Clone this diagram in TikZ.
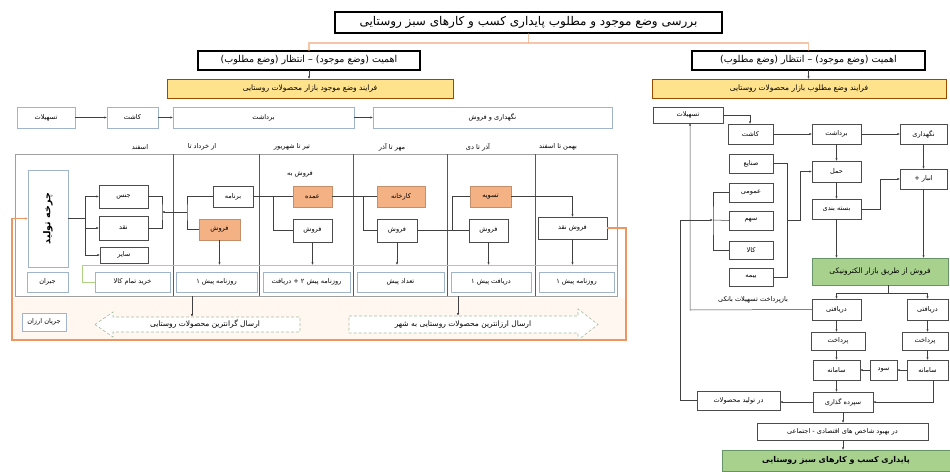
\documentclass[tikz,border=0pt]{standalone}
\usepackage{fontspec}
\setmainfont{DejaVu Sans}
\newfontfamily\fafont[Script=Arabic]{DejaVu Sans}
\TeXXeTstate=1
\usetikzlibrary{arrows.meta}
\definecolor{orbox}{RGB}{244,177,131}
\definecolor{yel}{RGB}{255,226,140}
\definecolor{grn}{RGB}{169,209,142}
\definecolor{loopc}{RGB}{236,150,100}
\definecolor{lblue}{RGB}{160,180,205}
\definecolor{gline}{RGB}{175,210,130}
\definecolor{shp}{RGB}{165,190,160}
\newcommand\fa[1]{{\fafont\beginR #1\endR}}
\newcommand\pbox[7]{\node[#2,minimum width={(#5-#3)*1pt},minimum height={(#6-#4)*1pt}] (#1) at ({(#3+#5)/2},{(#4+#6)/2}) {#7};}
\tikzset{
  base/.style={inner sep=0pt,outer sep=0pt,draw=black!70,line width=0.45pt,fill=white},
  wb/.style={base},
  lb/.style={base,draw=lblue},
  ob/.style={base,fill=orbox,draw=orbox!80!black},
  yb/.style={base,fill=yel,draw=orange!60!black,font=\fafont\fontsize{7.5}{8}\selectfont},
  gb/.style={base,fill=grn,draw=green!30!black!60},
  hb/.style={base,draw=black,line width=1.1pt},
  ln/.style={draw=black!75,line width=0.5pt},
  arr/.style={ln,-{Latex[length=2.6pt,width=2.2pt]}},
  lab/.style={inner sep=0pt}
}
\begin{document}
\begin{tikzpicture}[x=1pt,y=-1pt,font=\fafont\fontsize{6.6}{7.5}\selectfont]
\useasboundingbox (0,0) rectangle (950,471);
% ---------- top
\pbox{T}{hb,font=\fafont\fontsize{12}{13}\selectfont}{335}{12}{722}{33}{\fa{بررسی وضع موجود و مطلوب پایداری کسب و کارهای سبز روستایی}}
\pbox{LH}{hb,font=\fafont\fontsize{9.5}{10}\selectfont}{198}{51}{420}{70}{\fa{اهمیت (وضع موجود) – انتظار (وضع مطلوب)}}
\pbox{RH}{hb,font=\fafont\fontsize{9.5}{10}\selectfont}{692}{51}{925}{70}{\fa{اهمیت (وضع موجود) – انتظار (وضع مطلوب)}}
\pbox{LY}{yb}{167}{79}{453}{98}{\fa{فرایند وضع موجود بازار محصولات روستایی}}
\pbox{RY}{yb}{652}{79}{946}{98}{\fa{فرایند وضع مطلوب بازار محصولات روستایی}}
\coordinate (ob) at (528,43);
\draw[loopc,line width=1.8pt,opacity=.55] (LH.north) |- (ob) -| (RH.north);
\draw[loopc,line width=1.8pt,opacity=.55] (T.south) -- (T.south |- ob);
\draw[arr] (LH.south) -- (LH.south |- LY.north);
\draw[arr] (RH.south) -- (RH.south |- RY.north);
% ---------- left row
\pbox{L1}{lb}{17}{107}{75}{128}{\fa{تسهیلات}}
\pbox{L2}{lb}{107}{107}{158}{128}{\fa{کاشت}}
\pbox{L3}{lb}{173}{107}{354}{128}{\fa{برداشت}}
\pbox{L4}{lb}{373}{107}{612}{128}{\fa{نگهداری و فروش}}
\draw[arr] (L1) -- (L2);
\draw[arr] (L2) -- (L3);
\draw[arr] (L3) -- (L4);
% ---------- column headers
\node[lab] (H1) at (140,147) {\fa{اسفند}};
\node[lab] (H2) at (202,147) {\fa{از خرداد تا}};
\node[lab] (H3) at (292,147) {\fa{تیر تا شهریور}};
\node[lab] (H4) at (392,147) {\fa{مهر تا آذر}};
\node[lab] (H5) at (478,147) {\fa{آذر تا دی}};
\node[lab] (H6) at (558,147) {\fa{بهمن تا اسفند}};
% ---------- lower band and loop
\fill[orange!6] (12,298) rectangle (626,340);
\draw[gray!75,line width=.6pt] (15,154) rectangle (617,296);
\foreach \x in {173,259,353,447,535} \draw[black!65,line width=.6pt] (\x,154) -- (\x,296);
% column 1
\pbox{TB}{lb}{28}{170}{68}{267}{}
\node[lab,rotate=90,font=\fafont\bfseries\fontsize{9.5}{10}\selectfont] (TBt) at (TB.center) {\fa{چرخه تولید}};
\pbox{J1}{lb}{27}{272}{68}{292}{\fa{جبران}}
\pbox{C1a}{wb}{99}{185}{148}{208}{\fa{جنس}}
\pbox{C1b}{wb}{99}{216}{148}{240}{\fa{نقد}}
\pbox{C1c}{wb}{100}{247}{148}{263}{\fa{سایر}}
% column 2..6
\pbox{C2a}{wb}{213}{186}{253}{207}{\fa{برنامه}}
\pbox{C2b}{ob}{199}{219}{240}{240}{\fa{فروش}}
\node[lab] (F3) at (300,174) {\fa{فروش به}};
\pbox{C3a}{ob}{293}{186}{332}{207}{\fa{عمده}}
\pbox{C3b}{wb}{293}{219}{332}{242}{\fa{فروش}}
\pbox{C4a}{ob}{377}{186}{425}{207}{\fa{کارخانه}}
\pbox{C4b}{wb}{377}{219}{417}{242}{\fa{فروش}}
\pbox{C5a}{ob}{470}{186}{511}{207}{\fa{تسویه}}
\pbox{C5b}{wb}{469}{219}{508}{242}{\fa{فروش}}
\pbox{C6}{wb}{538}{217}{607}{239}{\fa{فروش نقد}}
% bottom row
\pbox{B1}{lb}{95}{272}{170}{292}{\fa{خرید تمام کالا}}
\pbox{B2}{lb}{176}{272}{257}{292}{\fa{روزنامه پیش ۱}}
\pbox{B3}{lb}{263}{272}{350}{292}{\fa{روزنامه پیش ۲ + دریافت}}
\pbox{B4}{lb}{357}{272}{444}{292}{\fa{تعداد پیش}}
\pbox{B5}{lb}{451}{272}{531}{292}{\fa{دریافت پیش ۱}}
\pbox{B6}{lb}{539}{272}{614}{292}{\fa{روزنامه پیش ۱}}
% green line
\coordinate (g1) at (82,265);
\coordinate (g2) at (617,265);
\draw[gline,line width=.7pt] (g2) -- (g1) |- (B1.west);
% col1 connectors
\coordinate (kt) at (85,196.5);
\coordinate (kb) at (85,255);
\draw[ln] (TB.east) -- (TB.east -| kt);
\draw[ln] (kt) -- (kb);
\draw[arr] (kt) -- (C1a.west);
\draw[arr] (kt |- C1b.west) -- (C1b.west);
\draw[arr] (kb) -- (kb -| C1c.west);
\coordinate (r1) at (162,212);
\coordinate (r2) at (187,212);
\draw[ln] (C1a.east) -| (r1) |- (C1b.east);
\draw[arr] (r2) -- (r1);
\draw[ln] (C2a.west) -| (r2) |- (C2b.west);
\coordinate (q3) at (273,196.5);
\coordinate (q4) at (363,196.5);
\coordinate (q5) at (452,230.5);
\draw[ln] (C2a.east) -- (C3a.west);
\draw[ln] (q3) |- (C3b.west);
\draw[ln] (C3a.east) -- (C4a.west);
\draw[ln] (q4) |- (C4b.west);
\draw[ln] (C4b.east) -- (C5b.west);
\draw[ln] (q5) |- (C5a.west);
\draw[arr] (C5a.east) -| (C6.north);
\foreach \n in {C2b,C3b,C4b,C5b,C6} \draw[arr] (\n.south) -- (\n.south |- g1);
% orange loop
\coordinate (lpR) at (626,340);
\coordinate (lpL) at (12,340);
\draw[loopc,line width=1.1pt,-{Latex[length=3pt,width=2.6pt]}] (C6.east) -| (lpR) -- (lpL) |- (TB.west);
% arrows shapes
\draw[shp,densely dashed,fill=white,line width=.6pt] (95,324.5) -- (113,312) -- (113,317) -- (300,317) -- (300,332) -- (113,332) -- (113,337) -- cycle;
\node[lab,minimum width=185pt,minimum height=15pt,font=\fafont\fontsize{7.5}{8}\selectfont] (LA) at (205,324.5) {\fa{ارسال گرانترین محصولات روستایی}};
\draw[shp,densely dashed,fill=white,line width=.6pt] (349,316) -- (578,316) -- (578,309) -- (598,324.5) -- (578,340) -- (578,333) -- (349,333) -- cycle;
\node[lab,minimum width=225pt,minimum height=17pt,font=\fafont\fontsize{7.5}{8}\selectfont] (RA) at (463,324.5) {\fa{ارسال ارزانترین محصولات روستایی به شهر}};
\coordinate (fb1) at (192,296);
\coordinate (fb2) at (458,296);
\draw[arr] (fb1) -- (fb1 |- LA.north);
\draw[arr] (fb2) -- (fb2 |- RA.north);
\pbox{JA}{lb}{22}{313}{66}{331}{\fa{جریان ارزان}}
% ---------- right side
\pbox{R1}{wb}{653}{107}{723}{123}{\fa{تسهیلات}}
\pbox{R2}{wb}{728}{124}{773}{144}{\fa{کاشت}}
\pbox{R3}{wb}{812}{124}{861}{144}{\fa{برداشت}}
\pbox{R4}{wb}{900}{124}{947}{144}{\fa{نگهداری}}
\pbox{R5}{wb}{812}{161}{861}{182}{\fa{حمل}}
\pbox{R6}{wb}{812}{199}{861}{219}{\fa{بسته بندی}}
\pbox{R7}{wb}{900}{169}{947}{189}{\fa{انبار +}}
\pbox{S1}{wb}{729}{154}{773}{173}{\fa{صنایع}}
\pbox{S2}{wb}{729}{183}{773}{202}{\fa{عمومی}}
\pbox{S3}{wb}{729}{211}{773}{230}{\fa{سهم}}
\pbox{S4}{wb}{729}{241}{773}{259}{\fa{کالا}}
\pbox{S5}{wb}{729}{268}{773}{286}{\fa{بیمه}}
\pbox{G1}{gb,font=\fafont\fontsize{7.5}{8}\selectfont}{812}{258}{948}{285}{\fa{فروش از طریق بازار الکترونیکی}}
\pbox{D1}{wb}{812}{299}{861}{320}{\fa{دریافتی}}
\pbox{D2}{wb}{907}{299}{948}{320}{\fa{دریافتی}}
\pbox{P1}{wb}{811}{332}{865}{350}{\fa{پرداخت}}
\pbox{P2}{wb}{902}{332}{948}{350}{\fa{پرداخت}}
\pbox{M1}{wb}{813}{360}{860}{380}{\fa{سامانه}}
\pbox{M2}{wb}{870}{360}{897}{380}{\fa{سود}}
\pbox{M3}{wb}{907}{360}{948}{380}{\fa{سامانه}}
\pbox{SP}{wb}{813}{392}{873}{412}{\fa{سپرده گذاری}}
\pbox{DT}{wb}{697}{391}{780}{410}{\fa{در تولید محصولات}}
\pbox{DB}{wb}{757}{423}{928}{440}{\fa{در بهبود شاخص های اقتصادی - اجتماعی}}
\pbox{FG}{gb,font=\fafont\bfseries\fontsize{8}{9}\selectfont}{722}{450}{950}{471}{\fa{پایداری کسب و کارهای سبز روستایی}}
\node[lab] (BZ) at (753,300) {\fa{بازپرداخت تسهیلات بانکی}};
% right connectors
\coordinate (a1) at (750,115);
\draw[arr] (R1.east) -- (a1) -- (a1 |- R2.north);
\draw[arr] (R2) -- (R3);
\draw[arr] (R3) -- (R4);
\draw[arr] (R3) -- (R5);
\draw[arr] (R5) -- (R6);
\draw[arr] (R4.south -| R7) -- (R7.north);
\coordinate (a2) at (880,209);
\draw[arr] (R6.east) -- (a2) |- (R7.west);
\draw[arr] (R6.south) -- (R6.south |- G1.north);
\draw[arr] (R7.south) -- (R7.south |- G1.north);
\coordinate (sb) at (787,220);
\coordinate (sc) at (800,220);
\draw[ln] (S1.east) -| (sb) |- (S5.east);
\draw[arr] (sb) -- (sc) |- (R5.west);
\coordinate (sl) at (713,220);
\draw[ln] (S2.west) -| (sl) |- (S4.west);
\draw[ln] (sl) -- (S3.west);
\coordinate (v1) at (690,310);
\draw[arr] (D1.west) -- (v1) -- (v1 |- R1.south);
\coordinate (v2) at (680,220);
\draw[arr] (DT.west) -| (v2) -- (sl);
\coordinate (gb0) at (888,293);
\coordinate (gl) at (836.5,293);
\coordinate (gr) at (927.5,293);
\draw[ln] (G1.south -| gb0) -- (gb0);
\draw[ln] (gl) -- (gr);
\draw[arr] (gl) -- (D1.north);
\draw[arr] (gr) -- (D2.north);
\draw[arr] (D1) -- (D1 |- P1.north);
\draw[arr] (D2) -- (D2 |- P2.north);
\draw[arr] (P1.south -| M1) -- (M1.north);
\draw[arr] (P2.south -| M3) -- (M3.north);
\draw[arr] (M3) -- (M2);
\draw[arr] (M2) -- (M1);
\draw[arr] (M1.south) -- (M1.south |- SP.north);
\coordinate (m3b) at (933,402);
\draw[arr] (M3.south -| m3b) -- (m3b) -- (SP.east);
\draw[arr] (SP.west) -- (SP.west -| DT.east);
\draw[arr] (SP.south) -- (SP.south |- DB.north);
\draw[arr] (SP.south |- DB.south) -- (SP.south |- FG.north);
\end{tikzpicture}
\end{document}
